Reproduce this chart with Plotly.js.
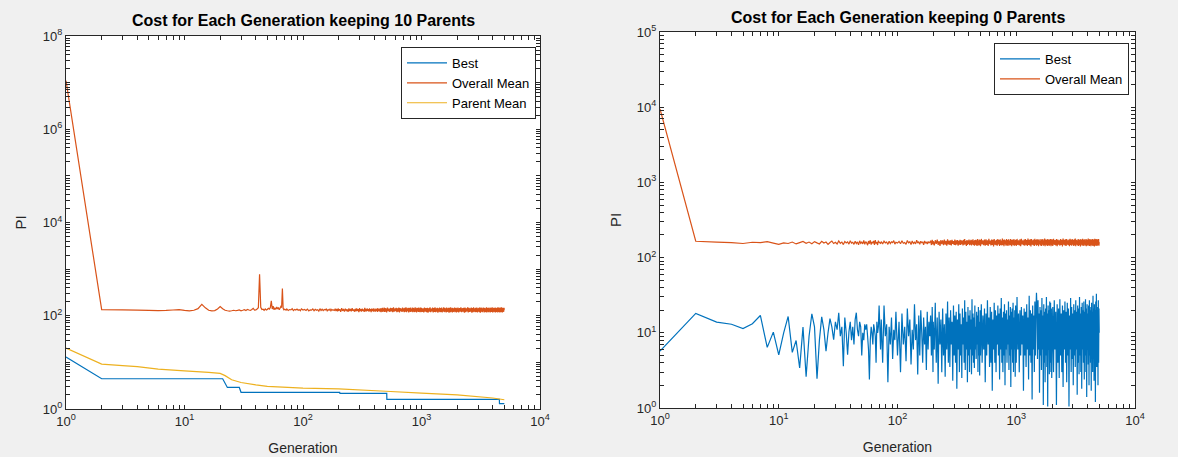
<!DOCTYPE html>
<html>
<head>
<meta charset="utf-8">
<script src="https://cdn.plot.ly/plotly-3.0.1.min.js"></script>
<style>html,body{margin:0;padding:0;background:#f0f0f0;}#chart{width:1178px;height:457px;}</style>
</head>
<body>
<div id="chart"></div>
<script>
// ---------- ticks (labelled decades plus unlabelled minor ticks) ----------
const X_TICKS = [1,2,3,4,5,6,7,8,9,10,20,30,40,50,60,70,80,90,100,200,300,400,500,600,700,800,900,
  1000,2000,3000,4000,5000,6000,7000,8000,9000,10000];
const X_TICK_TEXT = ['10<sup>0</sup>','','','','','','','','','10<sup>1</sup>','','','','','','','','',
  '10<sup>2</sup>','','','','','','','','','10<sup>3</sup>','','','','','','','','','10<sup>4</sup>'];
const Y_TICKS_LEFT = [1,2,3,4,5,6,7,8,9,10,20,30,40,50,60,70,80,90,100,200,300,400,500,600,700,800,900,
  1000,2000,3000,4000,5000,6000,7000,8000,9000,10000,20000,30000,40000,50000,60000,70000,80000,90000,
  100000,200000,300000,400000,500000,600000,700000,800000,900000,
  1000000,2000000,3000000,4000000,5000000,6000000,7000000,8000000,9000000,
  10000000,20000000,30000000,40000000,50000000,60000000,70000000,80000000,90000000,100000000];
const Y_TICK_TEXT_LEFT = ['10<sup>0</sup>','','','','','','','','','','','','','','','','','',
  '10<sup>2</sup>','','','','','','','','','','','','','','','','','',
  '10<sup>4</sup>','','','','','','','','','','','','','','','','','',
  '10<sup>6</sup>','','','','','','','','','','','','','','','','','',
  '10<sup>8</sup>'];
const Y_TICKS_RIGHT = [1,2,3,4,5,6,7,8,9,10,20,30,40,50,60,70,80,90,100,200,300,400,500,600,700,800,900,
  1000,2000,3000,4000,5000,6000,7000,8000,9000,10000,20000,30000,40000,50000,60000,70000,80000,90000,100000];
const Y_TICK_TEXT_RIGHT = ['10<sup>0</sup>','','','','','','','','','10<sup>1</sup>','','','','','','','','',
  '10<sup>2</sup>','','','','','','','','','10<sup>3</sup>','','','','','','','','',
  '10<sup>4</sup>','','','','','','','','','10<sup>5</sup>'];

// ---------- generations ----------
const GEN_EARLY = [1,2,3,4,5,6,7,8,9,10,11,12,13,14,15,16,17,18,19,20,21,22,23,24,25,26,27,28,29,30,
  31,32,33,34,35,36,37,38,39,40,41,42,43,44,45,46,47,48,49,50,51,52,53,54,55,56,57,58,59,60,
  61,62,63,64,65,66,67,68,69];
const GEN_LATE = [70,72,73,75,77,79,81,83,85,87,89,91,93,95,97,
  100,103,106,109,112,115,118,121,124,127,130,133,136,139,142,145,148,151,154,157,160,163,166,169,172,175,178,181,184,187,190,193,196,199,
  200,204,208,212,216,220,224,228,232,236,240,244,248,252,256,260,264,268,272,276,280,284,288,292,296,300,304,308,312,316,320,324,328,332,336,340,
  344,348,352,356,360,364,368,372,376,380,384,388,392,396,400,404,408,412,416,420,424,428,432,436,440,444,448,452,456,460,464,468,472,476,480,484,488,492,496,
  500,508,516,524,532,540,548,556,564,572,580,588,596,604,612,620,628,636,644,652,660,668,676,684,692,700,708,716,724,732,740,748,756,764,772,780,
  788,796,804,812,820,828,836,844,852,860,868,876,884,892,900,908,916,924,932,940,948,956,964,972,980,988,
  1000,1015,1030,1045,1060,1075,1090,1105,1120,1135,1150,1165,1180,1195,1210,1225,1240,1255,1270,1285,1300,1315,1330,1345,1360,1375,1390,1405,1420,1435,
  1450,1465,1480,1495,1510,1525,1540,1555,1570,1585,1600,1615,1630,1645,1660,1675,1690,1705,1720,1735,1750,1765,1780,1795,1810,1825,1840,1855,1870,1885,
  1900,1915,1930,1945,1960,1975,1990,
  2000,2030,2060,2090,2120,2150,2180,2210,2240,2270,2300,2330,2360,2390,2420,2450,2480,2510,2540,2570,2600,2630,2660,2690,2720,2750,2780,2810,2840,2870,
  2900,2930,2960,2990,3020,3050,3080,3110,3140,3170,3200,3230,3260,3290,3320,3350,3380,3410,3440,3470,3500,3530,3560,3590,3620,3650,3680,3710,3740,3770,
  3800,3830,3860,3890,3920,3950,3980,4010,4040,4070,4100,4130,4160,4190,4220,4250,4280,4310,4340,4370,4400,4430,4460,4490,4520,4550,4580,4610,4640,4670,
  4700,4730,4760,4790,4820,4850,4880,4910,4940,4970,5000];

// ---------- left chart: keeping 10 parents ----------
const L_BEST_GEN = [1, 2, 21, 23, 29, 30, 204, 205, 509, 510, 4540, 4550, 5000];
const L_BEST = [13, 4.45, 4.45, 2.9, 2.9, 2.28, 2.28, 2.16, 2.16, 1.61, 1.61, 1.3, 1.3];

const L_PARENT_GEN = [1, 2, 3, 4, 6, 10, 16, 20, 22, 25, 30, 40, 50, 100, 200, 500, 1000, 2000, 4000, 5000];
const L_PARENT = [20.2, 9.2, 8.5, 8.1, 7.2, 6.6, 6.1, 5.8, 5.2, 4.25, 3.7, 3.3, 3.06, 2.8, 2.7, 2.4, 2.2, 2.0, 1.72, 1.58];

const L_MEAN_EARLY = [11000000,135,134,132,130,129,130,133,135,130,
  127,131,142,176,148,131,127,129,140,158,
  142,131,128,126,128,131,128,130,133,128,
  131,135,130,137,133,130,136,144,132,134,
  140,148,780,152,136,138,131,140,133,136,
  144,139,150,209,140,160,134,146,137,155,
  139,150,134,145,158,150,385,145,134];
const L_MEAN_LATE = [138,132,140,130,136,134,142,129,137,133,139,131,135,128,141,
  133,136,130,139,127,134,132,140,128,137,131,135,126,142,130,138,129,136,133,140,127,135,131,139,128,137,132,134,130,141,126,140,124,143,
  128,138,122,145,127,139,123,142,129,137,121,144,126,140,124,146,128,136,122,141,
  125,143,127,138,120,145,126,139,123,142,128,137,121,147,125,140,124,143,127,138,
  122,144,126,139,120,142,128,141,123,145,125,137,122,143,127,140,121,146,126,139,
  124,142,123,144,119,145,124,148,121,143,126,150,120,146,123,
  144,118,149,125,142,121,147,124,145,119,151,122,143,126,148,120,144,123,150,118,
  146,125,143,121,149,124,145,119,147,122,152,120,144,125,148,118,146,123,150,121,
  143,124,149,119,147,122,145,120,151,123,144,118,148,124,146,121,149,120,145,122,
  150,119,
  147,121,144,118,150,123,146,120,148,117,145,122,151,119,143,124,149,118,146,121,
  152,120,145,123,148,117,144,122,150,119,146,121,149,118,143,124,151,120,147,122,
  145,118,150,121,144,123,148,117,146,120,152,119,145,122,149,118,147,121,143,124,
  150,119,146,122,148,118,145,
  121,149,118,146,123,151,119,145,122,148,117,150,120,144,124,152,118,147,121,145,
  123,149,117,146,120,151,122,144,119,148,121,150,118,145,123,147,120,152,117,146,
  122,149,119,144,124,150,118,147,121,145,120,151,117,148,123,146,119,150,122,144,
  118,149,121,147,120,152,117,145,123,148,119,146,122,150,118,147,121,144,124,149,
  117,151,120,146,122,148,118,150,121,145,119,152,123,147,117,149,120,146,122,148,
  134];

// ---------- right chart: keeping 0 parents ----------
const R_BEST_EARLY = [5.7,18.1,13.9,13,11.4,13.2,17,6.4,10.2,5.1,
  10,16.5,5.5,7.9,3.4,11.9,2.6,9,17.9,12,
  2.46,8,16.3,11,5.7,10,15.4,12,8.1,14,
  11,18.5,9,12,3.6,16,10,5.1,10.3,14,
  8,12,7,15,18.5,11,9,14,12,5,
  10,8,13,11,13,9,6,2.4,8,12,
  10,7,13,11,9,4,14,10,12];
const R_BEST_LATE = [23,6,15,4,23,9,13,2.2,12,7,16,4.5,11,8,19,
  5,14,3,18,7,12,4.2,21,9,15,3.8,11,6,24,8,13,2.8,17,5,20,10,4,16,7,12,3.2,19,6,14,9,17,5,22,3,
  14,6,25,4,16,2.1,19,7,15,3,21,5,13,2.6,18,6,26,4,16,3.5,
  20,7,14,2.3,23,5,17,4,19,1.8,15,6,24,3,18,5,13,2.5,21,7,
  16,4,27,3.2,19,6,14,2.2,22,5,17,3,20,6,15,2.8,28,5,18,4,
  16,3.4,23,6,12,4.5,19,7,17,3,22,5,14,2.7,20,
  5,24,4,17,6,21,2.2,18,5,27,7,16,3.5,22,4,19,1.7,15,6,25,
  4,20,3,17,7,23,5,18,2.4,21,6,29,4,16,3,19,5,24,2,18,
  6,20,4,15,7,26,3.2,17,5,22,1.9,19,6,21,4,25,3,16,6,20,
  2.6,23,
  4,30,6,18,3,20,5,22,7,17,1.7,21,5,19,3.5,24,6,16,2.4,31,
  5,20,4,18,1.3,23,6,17,3,26,5,19,34,21,4.5,27,6,18,1.6,22,
  5,20,3.2,29,6,17,1.1,24,4,19,2.2,21,5,30,3.5,18,1.05,23,6,20,
  2.8,26,4,25,3,21,2.5,
  5,22,3,27,6,19,1.1,24,4,21,2.5,28,5,18,3,23,1.9,20,6,26,
  4,19,2.2,25,5,21,1.05,17,6,29,3,22,4.5,18,2,24,5,20,3.5,27,
  6,19,1.5,23,4,21,2.8,30,5,18,3,22,1.8,25,6,20,4,26,2.4,19,
  5,28,3,21,1.4,24,6,18,3.8,23,2,27,5,20,4,22,1.7,25,6,19,
  3,31,5,21,2.3,24,4,20,1.2,26,6,33,3.5,22,5,19,2,27,4,21,
  10];
const R_MEAN_EARLY = [9500,165,161,158,154,160,158,163,156,150,
  157,154,161,152,158,164,155,161,153,163,
  157,152,165,156,161,150,159,166,154,160,
  152,167,155,161,149,164,157,162,151,168,
  156,160,150,165,154,162,148,167,155,161,
  152,169,150,163,157,146,166,153,170,149,
  162,155,167,148,171,154,160,147,168];
const R_MEAN_LATE = [160,155,163,152,166,157,161,150,165,154,162,158,168,151,160,
  156,164,153,167,155,159,150,169,157,162,149,166,154,160,152,170,156,163,150,165,158,161,148,167,155,162,151,164,157,160,168,147,172,150,
  165,145,170,152,174,148,166,143,171,151,169,146,173,149,167,144,175,150,168,147,
  170,145,172,152,166,148,174,146,169,150,171,144,167,149,173,147,170,151,168,145,
  172,148,176,150,166,143,171,147,169,152,174,146,168,149,172,145,170,150,175,147,
  167,144,171,149,173,146,170,143,176,149,168,145,174,147,171,
  142,177,150,169,146,173,144,175,148,170,143,178,151,168,145,174,147,172,141,176,
  149,169,146,173,144,177,150,171,143,175,148,168,145,179,147,172,142,174,150,170,
  144,176,146,171,143,175,149,169,145,177,147,173,142,174,148,171,146,176,144,170,
  147,173,
  143,177,148,170,145,175,142,178,150,169,146,174,144,176,148,171,143,179,147,172,
  145,175,141,177,149,170,146,174,143,178,148,171,144,176,147,173,142,175,150,169,
  145,177,143,172,148,176,144,170,146,179,142,174,149,171,145,177,143,173,147,175,
  144,172,148,176,142,174,146,
  175,143,178,148,171,145,176,142,174,149,170,144,177,147,173,141,179,148,172,145,
  175,143,177,149,170,146,174,142,178,147,172,144,176,148,171,143,175,146,179,142,
  173,149,170,145,177,143,174,147,172,141,176,148,171,144,178,146,173,143,175,149,
  170,145,177,142,174,147,172,144,179,148,171,143,176,146,173,142,175,149,170,145,
  177,143,174,148,172,141,178,146,171,144,176,147,173,143,175,149,170,146,177,144,
  160];

// ---------- styling ----------
const C_BLUE = '#0072BD', C_ORANGE = '#D95319', C_YELLOW = '#EDB120';
const AX = '#262626';
const FONT = 'Liberation Sans, Arial, Helvetica, sans-serif';
const LW = 1.2;

const GEN_ALL = GEN_EARLY.concat(GEN_LATE);

function line(color) { return {color: color, width: LW, simplify: false}; }

const traces = [
  {x: L_BEST_GEN, y: L_BEST, name: 'Best', type: 'scatter', mode: 'lines',
   line: line(C_BLUE), xaxis: 'x', yaxis: 'y', legend: 'legend'},
  {x: GEN_ALL, y: L_MEAN_EARLY.concat(L_MEAN_LATE), name: 'Overall Mean', type: 'scatter', mode: 'lines',
   line: line(C_ORANGE), xaxis: 'x', yaxis: 'y', legend: 'legend'},
  {x: L_PARENT_GEN, y: L_PARENT, name: 'Parent Mean', type: 'scatter', mode: 'lines',
   line: line(C_YELLOW), xaxis: 'x', yaxis: 'y', legend: 'legend'},
  {x: GEN_ALL, y: R_BEST_EARLY.concat(R_BEST_LATE), name: 'Best', type: 'scatter', mode: 'lines',
   line: line(C_BLUE), xaxis: 'x2', yaxis: 'y2', legend: 'legend2'},
  {x: GEN_ALL, y: R_MEAN_EARLY.concat(R_MEAN_LATE), name: 'Overall Mean', type: 'scatter', mode: 'lines',
   line: line(C_ORANGE), xaxis: 'x2', yaxis: 'y2', legend: 'legend2'}
];

function axisBase() {
  return {
    type: 'log', showgrid: false, zeroline: false,
    showline: true, linecolor: AX, linewidth: 1, mirror: 'ticks',
    ticks: 'inside', ticklen: 4, tickcolor: AX, tickwidth: 1,
    tickmode: 'array',
    tickfont: {family: FONT, size: 13, color: AX},
    fixedrange: true
  };
}

const W = 1178, H = 457;
const xL = Object.assign(axisBase(), {domain: [66 / W, 540 / W], range: [0, 4], anchor: 'y',
  tickvals: X_TICKS, ticktext: X_TICK_TEXT,
  title: {text: 'Generation', font: {family: FONT, size: 14, color: AX}, standoff: 15}});
const yL = Object.assign(axisBase(), {domain: [(H - 409) / H, (H - 36) / H], range: [0, 8], anchor: 'x',
  tickvals: Y_TICKS_LEFT, ticktext: Y_TICK_TEXT_LEFT,
  title: {text: 'PI', font: {family: FONT, size: 15, color: AX}, standoff: 12}});
const xR = Object.assign(axisBase(), {domain: [660 / W, 1135 / W], range: [0, 4], anchor: 'y2',
  tickvals: X_TICKS, ticktext: X_TICK_TEXT,
  title: {text: 'Generation', font: {family: FONT, size: 14, color: AX}, standoff: 15}});
const yR = Object.assign(axisBase(), {domain: [(H - 408) / H, (H - 32) / H], range: [0, 5], anchor: 'x2',
  tickvals: Y_TICKS_RIGHT, ticktext: Y_TICK_TEXT_RIGHT,
  title: {text: 'PI', font: {family: FONT, size: 15, color: AX}, standoff: 11}});

const legendBase = {
  bgcolor: '#ffffff', bordercolor: AX, borderwidth: 1,
  font: {family: FONT, size: 13, color: '#000000'},
  xanchor: 'right', yanchor: 'top', tracegroupgap: 0, itemwidth: 40
};

const layout = {
  width: W, height: H,
  paper_bgcolor: '#f0f0f0', plot_bgcolor: '#ffffff',
  margin: {l: 0, r: 0, t: 0, b: 0},
  font: {family: FONT, color: AX},
  showlegend: true,
  xaxis: xL, yaxis: yL, xaxis2: xR, yaxis2: yR,
  legend: Object.assign({}, legendBase, {x: 536 / W, y: (H - 47) / H}),
  legend2: Object.assign({}, legendBase, {x: 1129 / W, y: (H - 43) / H}),
  annotations: [
    {text: '<b>Cost for Each Generation keeping 10 Parents</b>', xref: 'paper', yref: 'paper',
     x: 303 / W, y: (H - 21) / H, xanchor: 'center', yanchor: 'middle', showarrow: false,
     font: {family: FONT, size: 16, color: '#000000'}},
    {text: '<b>Cost for Each Generation keeping 0 Parents</b>', xref: 'paper', yref: 'paper',
     x: 898 / W, y: (H - 18) / H, xanchor: 'center', yanchor: 'middle', showarrow: false,
     font: {family: FONT, size: 16, color: '#000000'}}
  ]
};

Plotly.newPlot('chart', traces, layout, {displayModeBar: false, staticPlot: true});
</script>
</body>
</html>
